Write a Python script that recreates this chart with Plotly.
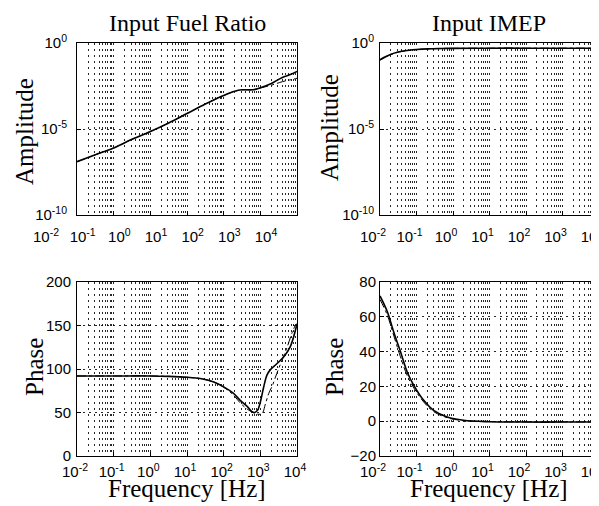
import plotly.graph_objects as go

# ---- data ----
# top left: amplitude, input fuel ratio
fuel_amp_freq = [0.01, 0.0316, 0.1, 0.316, 1, 3.16, 10, 31.6, 100, 200, 316, 631,
                 1000, 2000, 3981, 6310, 10000]
fuel_amp_model = [1.26e-7, 3.16e-7, 7.94e-7, 2.51e-6, 7.08e-6, 2.24e-5, 7.94e-5, 2.82e-4,
                  8.91e-4, 1.58e-3, 1.91e-3, 1.91e-3, 2.51e-3, 4.47e-3, 1.0e-2, 1.41e-2, 2.24e-2]
fuel_amp_meas = [1.26e-7, 3.16e-7, 7.94e-7, 2.51e-6, 7.08e-6, 2.24e-5, 7.94e-5, 2.82e-4,
                 8.91e-4, 1.58e-3, 1.91e-3, 1.91e-3, 2.4e-3, 3.55e-3, 5.62e-3, 7.08e-3, 8.91e-3]

# top right: amplitude, input IMEP
imep_amp_freq = [0.01, 0.0141, 0.02, 0.0282, 0.04, 0.0631, 0.1, 0.2, 0.5, 1, 10, 100, 1000, 10000]
imep_amp_model = [0.107, 0.158, 0.224, 0.282, 0.331, 0.38, 0.417, 0.457, 0.479, 0.49, 0.5, 0.5, 0.5, 0.5]
imep_amp_meas = [0.1, 0.15, 0.214, 0.275, 0.324, 0.372, 0.41, 0.45, 0.475, 0.488, 0.5, 0.5, 0.5, 0.5]

# bottom left: phase, input fuel ratio
fuel_ph_freq = [0.01, 0.1, 1, 3.16, 10, 22.9, 53.7, 100, 186, 282, 437, 589, 708, 851,
                1000, 1230, 1514, 1862, 2818, 4365, 6607, 10000]
fuel_ph_model = [92, 92, 92, 91.5, 90.5, 89, 85, 79.5, 72, 64, 57, 51, 50, 53,
                 62, 79, 93, 99, 106, 114, 126, 152]
fuel_ph_meas_freq = [0.01, 0.1, 1, 3.16, 10, 22.9, 53.7, 100, 186, 282, 437, 631, 891,
                     1122, 1380, 1698, 2089, 2818, 3890, 5370, 7244, 8913]
fuel_ph_meas = [92, 92, 92, 91.5, 90.5, 89, 85, 79, 70, 61, 54, 50, 48,
                49, 60, 72, 80, 95, 110, 125, 141, 150]

# bottom right: phase, input IMEP
imep_ph_freq = [0.01, 0.0158, 0.024, 0.0363, 0.0562, 0.0851, 0.158, 0.295, 0.692, 1.95,
                10, 100, 1000, 10000]
imep_ph_model = [72, 63, 51, 40, 28, 20.5, 12, 6.2, 2.4, 0.5, -0.3, -0.5, -0.5, -0.5]
imep_ph_meas = [70, 61, 49, 37, 26, 19, 11, 5.5, 2, 0.3, -0.2, -0.4, -0.4, -0.4]

decades_x = [0.01, 0.1, 1, 10, 100, 1000, 10000]
decades_x_text = ["10<sup>-2</sup>", "10<sup>-1</sup>", "10<sup>0</sup>", "10<sup>1</sup>",
                  "10<sup>2</sup>", "10<sup>3</sup>", "10<sup>4</sup>"]
amp_ticks = [1e-10, 1e-5, 1]
amp_ticks_text = ["10<sup>-10</sup>", "10<sup>-5</sup>", "10<sup>0</sup>"]

# the page body has an 8px margin, so the figure is 8px smaller than the window
OFF = 8
W, H = 599 - OFF, 506 - OFF
TICK_FONT = dict(family="Liberation Sans", size=15, color="black")
SERIF = "Liberation Serif"
GRID = "rgba(0,0,0,0.85)"
GRID_DASH = "2px,4px"


def px(x):
    return (x - OFF) / W


def py(y):
    return 1 - (y - OFF) / H


fig = go.Figure()

panels = [
    ("x", "y", fuel_amp_freq, fuel_amp_model, fuel_amp_freq, fuel_amp_meas),
    ("x2", "y2", imep_amp_freq, imep_amp_model, imep_amp_freq, imep_amp_meas),
    ("x3", "y3", fuel_ph_freq, fuel_ph_model, fuel_ph_meas_freq, fuel_ph_meas),
    ("x4", "y4", imep_ph_freq, imep_ph_model, imep_ph_freq, imep_ph_meas),
]
for xa, ya, fx, fy, mx, my in panels:
    fig.add_trace(go.Scatter(x=mx, y=my, xaxis=xa, yaxis=ya, mode="lines",
                             line=dict(color="black", width=1, dash="dashdot", shape="spline"),
                             showlegend=False))
    fig.add_trace(go.Scatter(x=fx, y=fy, xaxis=xa, yaxis=ya, mode="lines",
                             line=dict(color="black", width=1.6, shape="spline"),
                             showlegend=False))

minor_x = [m * 10 ** k for k in range(-2, 4) for m in range(2, 10)]


def xaxis(domain, anchor, shift=0, standoff=0):
    return dict(domain=domain, anchor=anchor, type="log", range=[-2, 4], automargin=False,
                tickmode="array", tickvals=decades_x, ticktext=decades_x_text,
                tickfont=TICK_FONT, ticks="inside", ticklen=4, tickcolor="black",
                ticklabelshift=shift, ticklabelstandoff=standoff, ticklabeloverflow="allow",
                showline=True, mirror=True, linecolor="black", linewidth=1,
                showgrid=True, gridcolor=GRID, griddash=GRID_DASH, gridwidth=1,
                minor=dict(tickmode="array", tickvals=minor_x, showgrid=True,
                           gridcolor=GRID, griddash=GRID_DASH, gridwidth=1, ticks=""),
                zeroline=False, fixedrange=True)


def yaxis(domain, anchor, standoff=0, **kw):
    d = dict(domain=domain, anchor=anchor, automargin=False, tickfont=TICK_FONT,
             ticks="inside", ticklen=4, tickcolor="black", ticklabelstandoff=standoff,
             ticklabeloverflow="allow",
             showline=True, mirror=True, linecolor="black", linewidth=1,
             showgrid=True, gridcolor=GRID, griddash=GRID_DASH, gridwidth=1,
             zeroline=False, fixedrange=True)
    d.update(kw)
    return d


left = [px(77), px(297)]
right = [px(380), 1.0]
top = [py(215), py(43)]
bottom = [py(456), py(282)]

fig.update_layout(
    template="none",
    width=W, height=H,
    margin=dict(l=0, r=0, t=0, b=0),
    paper_bgcolor="white", plot_bgcolor="white",
    xaxis=xaxis(left, "y", shift=-31, standoff=8),
    yaxis=yaxis(top, "x", standoff=6, type="log", range=[-10, 0],
                tickmode="array", tickvals=amp_ticks, ticktext=amp_ticks_text),
    xaxis2=xaxis(right, "y2", shift=-7, standoff=8),
    yaxis2=yaxis(top, "x2", standoff=2, type="log", range=[-10, 0],
                 tickmode="array", tickvals=amp_ticks, ticktext=amp_ticks_text),
    xaxis3=xaxis(left, "y3", shift=-2, standoff=2),
    yaxis3=yaxis(bottom, "x3", standoff=2, range=[0, 200], tickvals=[0, 50, 100, 150, 200]),
    xaxis4=xaxis(right, "y4", shift=-7, standoff=2),
    yaxis4=yaxis(bottom, "x4", standoff=0, range=[-20, 80], tickvals=[-20, 0, 20, 40, 60, 80]),
)

texts = [
    ("Input Fuel Ratio", 187, 23, 0, 24),
    ("Input IMEP", 489, 23, 0, 24),
    ("Amplitude", 24, 132, -90, 25),
    ("Amplitude", 329, 128, -90, 25),
    ("Phase", 34, 367, -90, 25),
    ("Phase", 334, 367, -90, 25),
    ("Frequency [Hz]", 187, 488, 0, 25),
    ("Frequency [Hz]", 489, 488, 0, 25),
]
for txt, tx, ty, ang, size in texts:
    fig.add_annotation(text=txt, x=px(tx), y=py(ty), xref="paper", yref="paper",
                       showarrow=False, textangle=ang, xanchor="center", yanchor="middle",
                       font=dict(family=SERIF, size=size, color="black"))

fig.write_html("out.html")
